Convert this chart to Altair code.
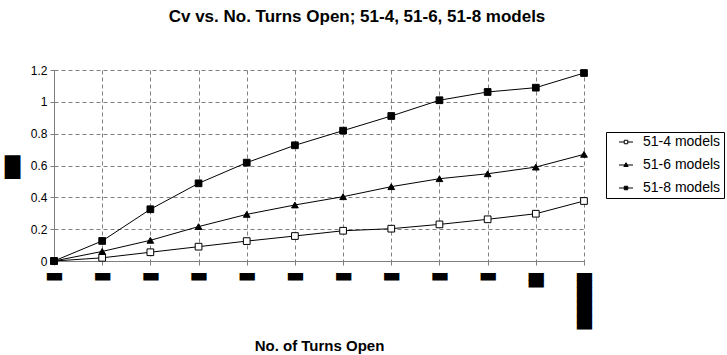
import json
import altair as alt
import pandas as pd

# ---- data ----
turns = list(range(12))
# tick labels are unreadable black blocks in the reference (each inner list = lines)
x_labels = [["▬"]] * 10 + [["▬", "▬"], ["▬"] * 8]
series = ["51-4 models", "51-6 models", "51-8 models"]
cv_51_4 = [0, 0.02, 0.055, 0.09, 0.125, 0.157, 0.19, 0.203, 0.23, 0.262, 0.297, 0.377]
cv_51_6 = [0, 0.06, 0.13, 0.216, 0.293, 0.352, 0.404, 0.467, 0.517, 0.548, 0.59, 0.67]
cv_51_8 = [0, 0.126, 0.325, 0.488, 0.618, 0.727, 0.819, 0.911, 1.01, 1.062, 1.089, 1.181]
y_ticks = [0, 0.2, 0.4, 0.6, 0.8, 1, 1.2]

rows = []
for s, vals in zip(series, [cv_51_4, cv_51_6, cv_51_8]):
    for t, v in zip(turns, vals):
        rows.append({"turn": t, "cv": v, "series": s})
df = pd.DataFrame(rows)

FONT = "Liberation Sans"
label_expr = json.dumps(x_labels, ensure_ascii=False) + "[datum.value]"

x_enc = alt.X(
    "turn:Q",
    scale=alt.Scale(domain=[0, 11], nice=False, zero=False),
    axis=alt.Axis(
        values=turns, labelExpr=label_expr, title="No. of Turns Open",
        labelFontSize=20, labelLineHeight=7, labelBaseline="top",
        labelPadding=0, labelFont="DejaVu Sans", labelFlush=False,
        labelOverlap=False, titleFont=FONT, titleFontSize=15,
        titleFontWeight="bold", titlePadding=4,
    ),
)
y_enc = alt.Y(
    "cv:Q",
    scale=alt.Scale(domain=[0, 1.2], nice=False),
    axis=alt.Axis(
        values=y_ticks, format="~g", title="█", titleAngle=0,
        titleFont="DejaVu Sans", titleFontSize=20, titleFontWeight="normal",
        titleX=-42, titleY=97, titleAlign="center", titleBaseline="middle",
        labelFont=FONT, labelFontSize=12, labelPadding=3,
    ),
)

base = alt.Chart(df)

lines = base.mark_line(color="black", strokeWidth=1).encode(
    x=x_enc, y=y_enc, detail="series:N", order="turn:Q"
)

points = base.mark_point(stroke="black", strokeWidth=1, size=45, opacity=1, filled=False).encode(
    x=x_enc, y=y_enc,
    shape=alt.Shape("series:N", scale=alt.Scale(domain=series, range=["square", "triangle-up", "square"]), legend=None),
    fill=alt.Fill("series:N", scale=alt.Scale(domain=series, range=["white", "black", "black"]), legend=None),
)

# legend-only layer: line segment + marker symbols (path units: 1 = 7 px)
sq = "M-2,0H-0.5M0.5,0H2M-0.5,-0.5H0.5V0.5H-0.5Z"
tri = "M-2,0H2M-0.62,0.42L0,-0.65L0.62,0.42Z"
leg = alt.Legend(title=None, orient="none", legendX=552, legendY=62)
legend_layer = base.transform_filter("datum.cv < 0").mark_point(
    strokeWidth=1, opacity=1, filled=False
).encode(
    x=x_enc, y=y_enc,
    shape=alt.Shape("series:N", scale=alt.Scale(domain=series, range=[sq, tri, sq]), legend=leg),
    fill=alt.Fill("series:N", scale=alt.Scale(domain=series, range=["white", "black", "black"]), legend=leg),
    stroke=alt.Stroke("series:N", scale=alt.Scale(domain=series, range=["black", "black", "black"]), legend=leg),
)

chart = (
    alt.layer(lines, points, legend_layer)
    .resolve_scale(shape="independent", fill="independent", stroke="independent")
    .properties(
        width=530, height=191,
        autosize=alt.AutoSizeParams(type="none"),
        padding={"left": 54, "top": 70, "right": 143, "bottom": 94},
        title=alt.TitleParams(
            "Cv vs. No. Turns Open; 51-4, 51-6, 51-8 models",
            font=FONT, fontSize=17, fontWeight="bold", color="black",
            anchor="middle", dx=38, offset=38,
        ),
    )
    .configure_view(strokeWidth=0)
    .configure_axis(
        grid=True, gridDash=[4, 3], gridColor="#808080", gridOpacity=1, gridWidth=1,
        domainColor="#808080", tickColor="#808080", tickSize=4,
        labelColor="black", titleColor="black",
    )
    .configure_legend(
        strokeColor="black", fillColor="white", padding=3,
        labelFont=FONT, labelFontSize=14, labelColor="black",
        symbolSize=49, symbolStrokeWidth=1, symbolStrokeColor="black",
        symbolOffset=10, rowPadding=9, labelOffset=10, cornerRadius=0,
    )
)

chart.save("out.html", embed_options={"renderer": "svg", "actions": False})
